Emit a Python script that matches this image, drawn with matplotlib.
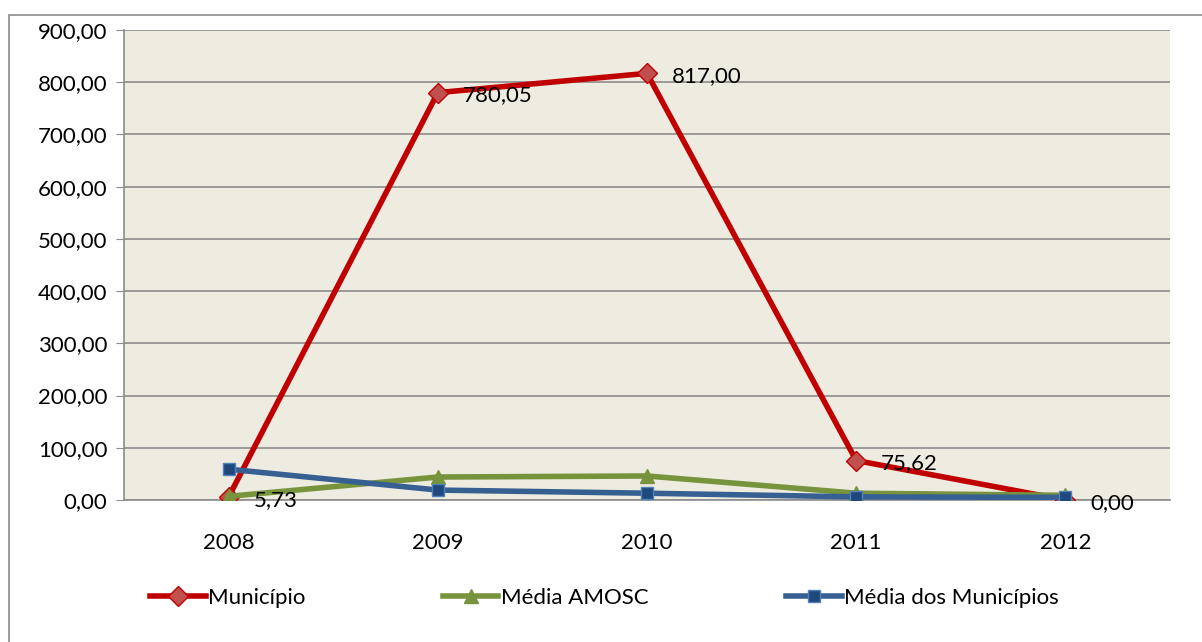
#!/usr/bin/env python3
'''
Municipal indicator vs. regional averages, 2008-2012.
'''
import matplotlib
matplotlib.use('Agg')
import matplotlib.pyplot as plt
from matplotlib.patches import Rectangle

years = ['2008', '2009', '2010', '2011', '2012']
municipio = [5.73, 780.05, 817.00, 75.62, 0.00]
media_amosc = [7, 44, 46, 13, 9]
media_municipios = [59, 19, 13, 6, 5]


def fmt_br(v):
    '''Format a number with comma as decimal separator.'''
    return f'{v:.2f}'.replace('.', ',')


plt.rcParams['font.family'] = ['Lato', 'DejaVu Sans']
FS = 16

fig = plt.figure(figsize=(12.02, 6.42), dpi=100)
ax = fig.add_axes([124 / 1202, 1 - 500 / 642, 1046 / 1202, 470 / 642])
ax.set_facecolor('#EEEBE0')

# outer chart border
fig.patches.append(Rectangle((9 / 1202, -0.01), 1.2, 1 - 15 / 642 + 0.01,
                             transform=fig.transFigure, fill=False,
                             edgecolor='#8C8C8C', linewidth=1.2))

x = list(range(len(years)))
ax.plot(x, municipio, '-D', color='#C00000', linewidth=4, markersize=10,
        markerfacecolor='#C0504D', markeredgecolor='#C00000', label='Município', zorder=3)
ax.plot(x, media_amosc, '-^', color='#77933C', linewidth=4, markersize=10,
        markerfacecolor='#77933C', markeredgecolor='#77933C', label='Média AMOSC', zorder=4)
ax.plot(x, media_municipios, '-s', color='#376092', linewidth=4, markersize=9,
        markerfacecolor='#1F497D', markeredgecolor='#4F81BD', label='Média dos Municípios', zorder=5)

for xi, v in zip(x, municipio):
    ax.annotate(fmt_br(v), (xi, v), xytext=(18, -2), textcoords='offset points',
                va='center', ha='left', fontsize=FS, zorder=6)

ax.set_xlim(-0.5, 4.5)
ax.set_ylim(0, 900)
ax.set_yticks(range(0, 901, 100))
ax.set_yticklabels([fmt_br(v) for v in range(0, 901, 100)])
ax.set_xticks(x)
ax.set_xticklabels(years)
ax.tick_params(axis='y', labelsize=FS, length=6, color='#8C8C8C', pad=6)
ax.tick_params(axis='x', labelsize=FS, length=0, pad=24)
ax.grid(axis='y', color='#8C8C8C', linewidth=1.2)
ax.set_axisbelow(True)
for side in ['top', 'right']:
    ax.spines[side].set_visible(False)
ax.spines['left'].set_color('#8C8C8C')
ax.spines['bottom'].set_color('#8C8C8C')
ax.spines['left'].set_linewidth(1.2)
ax.spines['bottom'].set_linewidth(1.2)

fig.legend(loc='center left', bbox_to_anchor=(150 / 1202, 1 - 598 / 642), ncol=3,
           frameon=False, fontsize=FS, handlelength=2.5, handletextpad=0.1,
           columnspacing=6.2, borderpad=0, borderaxespad=0)

plt.savefig('out.png', dpi=100)
plt.close()
